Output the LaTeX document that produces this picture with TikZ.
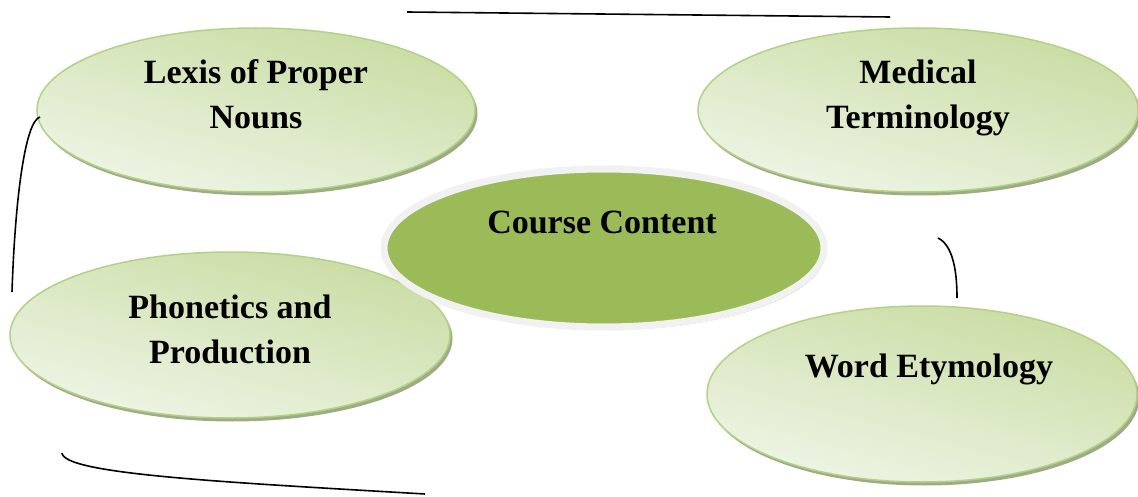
\documentclass[tikz,border=0pt]{standalone}
\usepackage{fontspec}
\setmainfont{Liberation Serif}
\usetikzlibrary{shapes.geometric,shadows}

\definecolor{bubdark}{HTML}{C9DCA2}
\definecolor{bublight}{HTML}{EEF5E6}
\definecolor{bubedge}{HTML}{B3D186}
\definecolor{bubshadow}{HTML}{9DAC84}
\definecolor{hubgreen}{HTML}{9BBB59}
\definecolor{hubring}{HTML}{F1F1F1}
\definecolor{hubshadow}{HTML}{A9AE9E}

\begin{document}
\begin{tikzpicture}[x=1pt,y=-1pt,
    bubble/.style={ellipse,inner sep=0pt,draw=bubedge,line width=1.5pt,
      top color=bubdark,bottom color=bublight,shading angle=-15,
      drop shadow={shadow xshift=2.5pt,shadow yshift=-3.5pt,fill=bubshadow,opacity=1}},
    hub/.style={ellipse,inner sep=0pt,draw=hubring,line width=7pt,fill=hubgreen,
      drop shadow={shadow xshift=2pt,shadow yshift=-3pt,fill=hubshadow,opacity=1}},
    caption/.style={font=\bfseries\fontsize{34}{45}\selectfont,align=center,inner sep=0pt},
    curl/.style={line width=1.6pt}]
  \useasboundingbox (0,0) rectangle (1138,497);

  \node[bubble,minimum width=438pt,minimum height=164pt] (lexis) at (256,110) {};
  \node[caption] (lexist) at (256,94) {Lexis of Proper\\Nouns};

  \node[bubble,minimum width=440pt,minimum height=164pt] (medic) at (918,110) {};
  \node[caption] (medict) at (918,98) {Medical\\Terminology};

  \node[bubble,minimum width=440pt,minimum height=166pt] (phon) at (230,335) {};
  \node[caption] (phont) at (230,329) {Phonetics and\\Production};

  \node[bubble,minimum width=430pt,minimum height=176pt] (etym) at (922,394) {};
  \node[caption] (etymt) at (929,369) {Word Etymology};

  \node[hub,minimum width=440pt,minimum height=158pt] (hub) at (604,248) {};
  \node[caption] (hubt) at (602,222) {Course Content};

  \coordinate (ta) at (407,12);
  \coordinate (tb) at (890,17);
  \coordinate (la) at (40,117);
  \coordinate (lb) at (12,292);
  \coordinate (ra) at (938,238);
  \coordinate (rb) at (957,298);
  \coordinate (ba) at (62,453);
  \coordinate (bb) at (425,494);

  \draw[curl] (ta) -- (tb);
  \draw[curl] (la) .. controls (25,121) and (15,200) .. (lb);
  \draw[curl] (ra) .. controls (952,245) and (957,268) .. (rb);
  \draw[curl] (ba) .. controls (64,474) and (220,482) .. (bb);
\end{tikzpicture}
\end{document}
